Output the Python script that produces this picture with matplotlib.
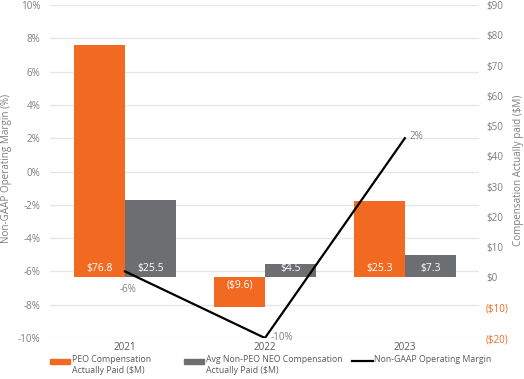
import matplotlib
matplotlib.use("Agg")
import matplotlib.pyplot as plt
from matplotlib.patches import Rectangle
from matplotlib.lines import Line2D
import numpy as np

years = ["2021", "2022", "2023"]
peo_cap = [76.8, -9.6, 25.3]
neo_cap = [25.5, 4.5, 7.3]
margin = [-6, -10, 2]
left_ticks = [-10, -8, -6, -4, -2, 0, 2, 4, 6, 8, 10]
right_ticks = [-20, -10, 0, 10, 20, 30, 40, 50, 60, 70, 80, 90]

ORANGE = "#F26A21"
GRAY = "#6D6E72"
TXT = "#7F7F7F"
plt.rcParams['font.family'] = ['Open Sans', 'DejaVu Sans']
FS = 7.1

W, H = 524, 379
fig = plt.figure(figsize=(W/100, H/100), dpi=100)
ax = fig.add_axes([50/W, 1-338/H, (479-50)/W, (338-5)/H])
ax2 = ax.twinx()

x = np.arange(len(years))
w = 0.364

def money(v):
    return f"(${abs(v):.1f})" if v < 0 else f"${v:.1f}"

b1 = ax2.bar(x - w/2, peo_cap, w, color=ORANGE, zorder=2)
b2 = ax2.bar(x + w/2, neo_cap, w, color=GRAY, zorder=2)
for bars, vals in ((b1, peo_cap), (b2, neo_cap)):
    for rect, v in zip(bars, vals):
        cx = rect.get_x() + rect.get_width()/2
        off = 9 if v >= 0 else -8
        ax2.annotate(money(v), (cx, 0), xytext=(0, off), textcoords="offset pixels",
                     ha="center", va="center", color="white", fontsize=FS + 0.4)

ax2.set_ylim(-20, 90)
ax2.set_yticks(right_ticks)
ax2.set_yticklabels([f"(${abs(t)})" if t < 0 else f"${t}" for t in right_ticks])
for lab, t in zip(ax2.get_yticklabels(), right_ticks):
    lab.set_color(ORANGE if t < 0 else TXT)
ax2.tick_params(axis="y", length=0, pad=5, labelsize=FS)

# line on separate axis on top
ax3 = ax.twinx()
ax3.set_ylim(-10, 10)
ax3.axis("off")
ax3.plot(x, margin, color="black", lw=1.6, zorder=3)
ax3.annotate(f"{margin[0]}%", (x[0], margin[0]), xytext=(3, -18), textcoords="offset pixels",
             ha="center", va="center", color=TXT, fontsize=FS)
ax3.annotate(f"{margin[1]}%", (x[1], margin[1]), xytext=(6, 0), textcoords="offset pixels",
             ha="left", va="center", color=TXT, fontsize=FS)
ax3.annotate(f"{margin[2]}%", (x[2], margin[2]), xytext=(5, 2), textcoords="offset pixels",
             ha="left", va="center", color=TXT, fontsize=FS)

ax.set_ylim(-10, 10)
ax.set_yticks(left_ticks)
ax.set_yticklabels([f"{t}%" for t in left_ticks])
ax.grid(axis="y", color="#E6E6E6", lw=1)
ax.set_axisbelow(True)
ax.tick_params(axis="y", length=0, pad=7, labelsize=FS, labelcolor=TXT)
ax.set_xlim(-0.536, 2.53)
ax.set_xticks(x)
ax.set_xticklabels(years)
ax.tick_params(axis="x", length=0, pad=3, labelsize=FS, labelcolor="#595959")
for a in (ax, ax2, ax3):
    for s in a.spines.values():
        s.set_visible(False)
ax2.set_xlim(ax.get_xlim())
ax3.set_xlim(ax.get_xlim())

fig.text(7/W, 1-168/H, "Non-GAAP Operating Margin (%)", rotation=90, ha="center", va="center",
         color=TXT, fontsize=FS)
fig.text(518/W, 1-170/H, "Compensation Actually paid ($M)", rotation=90, ha="center", va="center",
         color=TXT, fontsize=FS)

# legend (manual layout)
ly = 1 - 361/H
fig.add_artist(Rectangle((50/W, ly - 2.5/H), 20/W, 5/H, color=ORANGE, transform=fig.transFigure))
fig.add_artist(Rectangle((184/W, ly - 2.5/H), 20/W, 5/H, color=GRAY, transform=fig.transFigure))
fig.add_artist(Line2D([352/W, 373/W], [ly, ly], color="black", lw=1.6, transform=fig.transFigure))
leg_labels = ["PEO Compensation\nActually Paid ($M)", "Avg Non-PEO NEO Compensation\nActually Paid ($M)",
              "Non-GAAP Operating Margin"]
for tx, lab in zip([72, 206, 374], leg_labels):
    fig.text(tx/W, 1 - 355/H, lab, ha="left", va="top", color="#595959", fontsize=6.3,
             linespacing=1.35)

fig.savefig("out.png", dpi=100)
